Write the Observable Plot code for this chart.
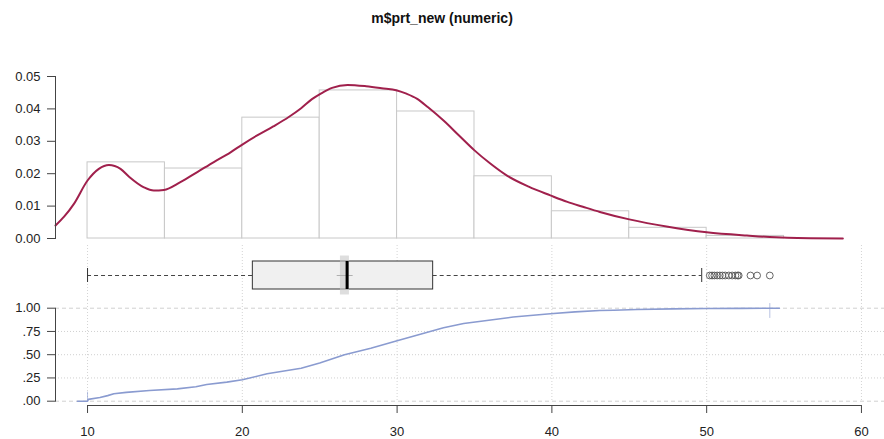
<!DOCTYPE html>
<html>
<head>
<meta charset="utf-8">
<script src="https://cdn.jsdelivr.net/npm/d3@7"></script>
<script src="https://cdn.jsdelivr.net/npm/@observablehq/plot@0.6"></script>
<style>
  html, body { margin: 0; padding: 0; background: #fff; }
  #wrap { position: relative; width: 884px; height: 439px; overflow: hidden; font-family: "Liberation Sans", Arial, sans-serif; }
  #title { position: absolute; left: 0; top: 10px; width: 884px; text-align: center; font-weight: bold; font-size: 14px; color: #111; }
  .panel { position: absolute; left: 0; }
</style>
</head>
<body>
<div id="wrap">
  <div id="title">m$prt_new (numeric)</div>
</div>
<script>
// ---- data ----
const titleText = "m$prt_new (numeric)";
const histBreaks = [10, 15, 20, 25, 30, 35, 40, 45, 50, 55];
const histDensity = [0.0235, 0.0216, 0.0373, 0.0457, 0.0392, 0.0192, 0.0084, 0.0033, 0.0008];

const densX = [7.93, 8.5, 9.12, 10.0, 10.73, 11.38, 12.13, 12.7, 13.64, 14.28, 14.93, 16.0, 17.09, 18.16, 19.24, 20.0, 20.96, 22.0, 23.0, 23.8, 24.5, 25.1, 25.8, 26.8, 28.0, 29.0, 30.0, 30.6, 31.3, 32.0, 33.0, 34.0, 35.0, 36.0, 37.1, 38.5, 39.9, 41.0, 42.0, 43.1, 45.0, 47.5, 50.0, 52.6, 55.2, 58.8];
const densY = [0.0040, 0.0068, 0.0107, 0.0179, 0.0215, 0.0227, 0.0215, 0.0190, 0.0158, 0.0148, 0.0150, 0.0174, 0.0205, 0.0236, 0.0266, 0.0290, 0.0318, 0.0346, 0.0375, 0.0402, 0.043, 0.0448, 0.0465, 0.0474, 0.0470, 0.0464, 0.0457, 0.0447, 0.0431, 0.0405, 0.0364, 0.0318, 0.0272, 0.0232, 0.0194, 0.016, 0.0133, 0.0113, 0.0098, 0.0082, 0.0059, 0.0036, 0.0019, 0.0009, 0.0002, 0.0];

const boxLow = 10, boxQ1 = 20.68, boxMedian = 26.77, boxQ3 = 32.33, boxHigh = 49.68;
const meanCI = [26.34, 26.92];
const meanMark = [26.13, 27.16];
const outliers = [50.2, 50.35, 50.5, 50.68, 50.85, 51.02, 51.2, 51.43, 51.65, 51.86, 52.0, 52.07, 52.83, 53.26, 54.08];

const ecdfX = [9.35, 10.0, 10.05, 10.8, 11.3, 11.7, 12.5, 14.0, 15.8, 17.0, 17.7, 19.0, 20.0, 21.6, 22.5, 23.8, 25.0, 26.6, 28.3, 30.0, 31.5, 33.0, 34.3, 35.8, 37.5, 39.9, 41.5, 43.1, 44.0, 45.5, 47.8, 50.0, 52.2, 54.08, 54.7];
const ecdfY = [0, 0, 0.02, 0.04, 0.06, 0.08, 0.095, 0.115, 0.133, 0.155, 0.18, 0.205, 0.23, 0.295, 0.32, 0.355, 0.41, 0.5, 0.57, 0.65, 0.72, 0.79, 0.835, 0.868, 0.905, 0.94, 0.96, 0.975, 0.978, 0.986, 0.993, 0.996, 0.998, 1.0, 1.0];

const xTicks = [10, 20, 30, 40, 50, 60];
const densTicks = [0, 0.01, 0.02, 0.03, 0.04, 0.05];
const ecdfTicks = [0, 0.25, 0.5, 0.75, 1];

// ---- shared layout ----
const W = 884;
const xScale = {domain: [7.93, 61.49], axis: null};
const common = {width: W, marginLeft: 55, marginRight: 0, style: {fontSize: "13px", fontFamily: "Liberation Sans, Arial, sans-serif", color: "#222", background: "transparent"}};
const wrap = document.getElementById("wrap");
function place(svg, y) { svg.classList.add("panel"); svg.style.top = y + "px"; svg.style.position = "absolute"; wrap.appendChild(svg); }

// ---- top panel: histogram + density ----
const bins = histDensity.map((d, i) => ({x1: histBreaks[i], x2: histBreaks[i + 1], y: d}));
const dens = densX.map((x, i) => ({x, y: densY[i]}));
const densPlot = Plot.plot({
  ...common,
  height: 245, marginTop: 76, marginBottom: 7,
  x: xScale,
  y: {domain: [0, 0.05], axis: null},
  marks: [
    Plot.rectY(bins, {x1: "x1", x2: "x2", y: "y", fill: "white", stroke: "#c8c8c8", strokeWidth: 1}),
    Plot.line(dens, {x: "x", y: "y", stroke: "#A0204C", strokeWidth: 2, curve: "monotone-x"}),
    Plot.frame({anchor: "left", stroke: "#444"}),
    Plot.axisY({ticks: densTicks, tickFormat: d3.format(".2f"), tickSize: 8, tickPadding: 7, stroke: "#444", fill: "#222", fontSize: 13, label: null})
  ]
});
place(densPlot, 0);

// ---- box panel ----
const boxPlot = Plot.plot({
  ...common,
  height: 55, marginTop: 16, marginBottom: 11,
  x: xScale,
  y: {domain: [-1, 1], axis: null},
  marks: [
    Plot.ruleX(xTicks, {stroke: "#d4d4d4", strokeDasharray: "1,2", insetTop: -16, insetBottom: -11}),
    Plot.ruleY([0], {x1: boxLow, x2: boxQ1, stroke: "#444", strokeDasharray: "4,3"}),
    Plot.ruleY([0], {x1: boxQ3, x2: boxHigh, stroke: "#444", strokeDasharray: "4,3"}),
    Plot.ruleX([boxLow, boxHigh], {y1: -0.5, y2: 0.5, stroke: "#333"}),
    Plot.rect([{}], {x1: boxQ1, x2: boxQ3, y1: -1, y2: 1, fill: "#f0f0f0", stroke: "#333", strokeWidth: 1}),
    Plot.rect([{}], {x1: meanCI[0], x2: meanCI[1], y1: -1.39, y2: 1.39, fill: "#c8c8c8", fillOpacity: 0.6}),
    Plot.ruleY([0], {x1: meanMark[0], x2: meanMark[1], stroke: "#b0b0b0"}),
    Plot.ruleX([boxMedian], {y1: -1, y2: 1, stroke: "#000", strokeWidth: 3}),
    Plot.dot(outliers, {x: d => d, y: () => 0, r: 3.4, stroke: "#555", fill: "none", strokeWidth: 0.9})
  ]
});
place(boxPlot, 245);

// ---- ECDF panel ----
const ecdf = ecdfX.map((x, i) => ({x, y: ecdfY[i]}));
const cdfPlot = Plot.plot({
  ...common,
  height: 139, marginTop: 7.7, marginBottom: 38.3,
  x: xScale,
  y: {domain: [0, 1], axis: null},
  marks: [
    Plot.ruleX(xTicks, {stroke: "#d4d4d4", strokeDasharray: "1,2", insetTop: -7.7}),
    Plot.ruleY([0, 1], {stroke: "#d0d0d0", strokeDasharray: "4,3"}),
    Plot.ruleY([0.25, 0.5, 0.75], {stroke: "#d0d0d0", strokeDasharray: "1,2"}),
    Plot.ruleX([ecdfX[1]], {y1: 0, y2: 0.097, stroke: "#8a9bd0", strokeOpacity: 0.6}),
    Plot.ruleX([ecdfX[ecdfX.length - 2]], {y1: 0.89, y2: 1.05, stroke: "#8a9bd0", strokeOpacity: 0.6}),
    Plot.line(ecdf, {x: "x", y: "y", stroke: "#8a9bd0", strokeWidth: 1.6, curve: "linear"}),
    Plot.frame({anchor: "left", stroke: "#444"}),
    Plot.axisY({ticks: ecdfTicks, tickFormat: d => d3.format(".2f")(d).replace(/^0/, ""), tickSize: 8, tickPadding: 7, stroke: "#444", fill: "#222", fontSize: 13, label: null}),
    Plot.ruleY([0], {x1: xTicks[0], x2: xTicks[xTicks.length - 1], stroke: "#444", dy: 4.3}),
    Plot.axisX({ticks: xTicks, tickFormat: d => String(d), tickSize: 8, tickPadding: 13, dy: 4.3, stroke: "#444", fill: "#222", fontSize: 13, label: null})
  ]
});
place(cdfPlot, 300);
</script>
</body>
</html>
